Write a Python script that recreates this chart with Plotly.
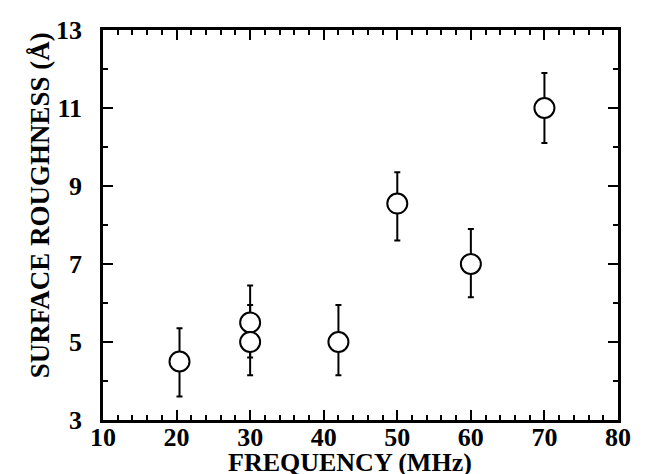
import plotly.graph_objects as go

freq = [20.4, 30, 30, 42, 50, 60, 70]
roughness = [4.5, 5.5, 5.0, 5.0, 8.55, 7.0, 11.0]
err_plus = [0.85, 0.95, 0.95, 0.95, 0.8, 0.9, 0.9]
err_minus = [0.9, 0.9, 0.85, 0.85, 0.95, 0.85, 0.9]

x_ticks = [10, 20, 30, 40, 50, 60, 70, 80]
y_ticks = [3, 5, 7, 9, 11, 13]

FONT = "Liberation Serif"

fig = go.Figure()
fig.add_trace(go.Scatter(
    x=freq, y=roughness, mode="markers",
    marker=dict(symbol="circle", size=20, color="white",
                line=dict(color="black", width=2)),
    error_y=dict(type="data", symmetric=False, array=err_plus,
                 arrayminus=err_minus, color="black", thickness=2, width=3),
    showlegend=False,
))

axis_common = dict(
    showline=True, linecolor="black", linewidth=2.5, mirror="ticks",
    ticks="inside", ticklen=10, tickwidth=2, tickcolor="black",
    showgrid=False, zeroline=False,
    tickfont=dict(family=FONT, size=26, color="black", weight="bold"),
)

fig.update_xaxes(
    range=[10, 80], tickvals=x_ticks, ticktext=[str(v) for v in x_ticks],
    minor=dict(dtick=2, ticks="inside", ticklen=5, tickwidth=1.5, tickcolor="black"),
    ticklabelstandoff=-8,
    **axis_common,
)
fig.update_yaxes(
    range=[3, 13], tickvals=y_ticks, ticktext=[str(v) for v in y_ticks],
    minor=dict(dtick=1, ticks="inside", ticklen=5, tickwidth=1.5, tickcolor="black"),
    ticklabelstandoff=13,
    **axis_common,
)

fig.add_annotation(
    text="FREQUENCY (MHz)", xref="paper", yref="paper", x=0.48, y=-0.11,
    xanchor="center", yanchor="middle", showarrow=False,
    font=dict(family=FONT, size=26, color="black", weight="bold"),
)
fig.add_annotation(
    text="SURFACE ROUGHNESS (Å)", xref="paper", yref="paper", x=-0.122, y=0.551,
    xanchor="center", yanchor="middle", textangle=-90, showarrow=False,
    font=dict(family=FONT, size=27, color="black", weight="bold"),
)

fig.update_layout(
    width=648, height=474,
    margin=dict(l=103, r=30, t=30, b=54),
    plot_bgcolor="white", paper_bgcolor="white",
)

fig.write_html(
    "out.html",
    config={"displayModeBar": False},
    post_script="document.body.style.margin='0';document.body.style.overflow='hidden';",
)
